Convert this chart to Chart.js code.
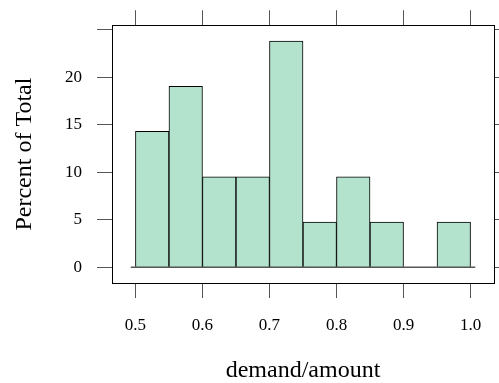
<!DOCTYPE html>
<html>
<head>
<meta charset="utf-8">
<script src="https://cdn.jsdelivr.net/npm/chart.js@4.4.1/dist/chart.umd.min.js"></script>
<style>
  html, body { margin: 0; padding: 0; background: #ffffff; }
  #wrap { width: 499px; height: 383px; }
</style>
</head>
<body>
<div id="wrap"><canvas id="c" width="499" height="383"></canvas></div>
<script>
// Histogram of demand/amount: bin edges and the percent of observations per bin
const binEdges = [0.50, 0.55, 0.60, 0.65, 0.70, 0.75, 0.80, 0.85, 0.90, 0.95, 1.00];
const percents = [14.29, 19.05, 9.52, 9.52, 23.81, 4.76, 9.52, 4.76, 0, 4.76];
const xTicks = [0.5, 0.6, 0.7, 0.8, 0.9, 1.0];
const yTicks = [0, 5, 10, 15, 20, 25];
const yLabelled = [0, 5, 10, 15, 20];

const xTitle = 'demand/amount';
const yTitle = 'Percent of Total';

// axis limits padded the way lattice pads its panels (7% each side)
const xPad = (binEdges[binEdges.length - 1] - binEdges[0]) * 0.07;
const yMaxVal = Math.max(...percents);
const yPad = yMaxVal * 0.07;
const xMin = binEdges[0] - xPad, xMax = binEdges[binEdges.length - 1] + xPad;
const yMin = 0 - yPad, yMax = yMaxVal + yPad;

const bars = percents.map((p, i) => ({ x: (binEdges[i] + binEdges[i + 1]) / 2, y: p }));
const overhang = 0.007;
const baseline = [
  { x: binEdges[0] - overhang, y: 0 },
  { x: binEdges[binEdges.length - 1] + overhang, y: 0 }
];

const serif = "'Liberation Serif', 'DejaVu Serif', serif";
const tickGray = '#555555';

function fixTicks(values) {
  return function (scale) { scale.ticks = values.map(v => ({ value: v })); };
}
function fixSize(prop, size) {
  return function (scale) { scale[prop] = size; };
}

new Chart(document.getElementById('c'), {
  type: 'bar',
  data: {
    datasets: [
      {
        type: 'bar',
        data: bars,
        backgroundColor: '#B3E2CD',
        borderColor: '#000000',
        borderWidth: 1,
        barPercentage: 1,
        categoryPercentage: 1,
        xAxisID: 'x',
        yAxisID: 'y',
        order: 2
      },
      {
        type: 'line',
        data: baseline,
        borderColor: '#000000',
        borderWidth: 1,
        pointRadius: 0,
        fill: false,
        xAxisID: 'x',
        yAxisID: 'y',
        order: 1
      }
    ]
  },
  options: {
    responsive: false,
    animation: false,
    devicePixelRatio: 1,
    layout: { padding: 0 },
    plugins: { legend: { display: false }, tooltip: { enabled: false } },
    scales: {
      x: {
        type: 'linear',
        position: 'bottom',
        offset: false,
        min: xMin, max: xMax,
        afterBuildTicks: fixTicks(xTicks),
        afterFit: fixSize('height', 100),
        grid: { offset: false, drawOnChartArea: false, drawTicks: true, tickLength: 15, color: tickGray, lineWidth: 1 },
        border: { display: true, color: '#000000', width: 1 },
        ticks: {
          color: '#000000', padding: 17, maxRotation: 0, autoSkip: false,
          font: { family: serif, size: 17 },
          callback: v => v.toFixed(1)
        },
        title: {
          display: true, text: xTitle, color: '#000000',
          font: { family: serif, size: 24, lineHeight: 1.05 },
          padding: { top: 0, bottom: 0 }
        }
      },
      xTop: {
        type: 'linear',
        position: 'top',
        offset: false,
        min: xMin, max: xMax,
        afterBuildTicks: fixTicks(xTicks),
        afterFit: fixSize('height', 23),
        grid: { offset: false, drawOnChartArea: false, drawTicks: true, tickLength: 15, color: tickGray, lineWidth: 1 },
        border: { display: true, color: '#000000', width: 1 },
        ticks: { display: false }
      },
      y: {
        type: 'linear',
        position: 'left',
        min: yMin, max: yMax,
        afterBuildTicks: fixTicks(yTicks),
        afterFit: fixSize('width', 112),
        grid: { drawOnChartArea: false, drawTicks: true, tickLength: 15, color: tickGray, lineWidth: 1 },
        border: { display: true, color: '#000000', width: 1 },
        ticks: {
          color: '#000000', padding: 15, autoSkip: false,
          font: { family: serif, size: 17 },
          callback: v => (yLabelled.includes(v) ? String(v) : '')
        },
        title: {
          display: true, text: yTitle, color: '#000000',
          font: { family: serif, size: 24 },
          padding: { top: 10, bottom: 0 }
        }
      },
      yRight: {
        type: 'linear',
        position: 'right',
        min: yMin, max: yMax,
        afterBuildTicks: fixTicks(yTicks),
        afterFit: fixSize('width', 5),
        grid: { drawOnChartArea: false, drawTicks: true, tickLength: 15, color: tickGray, lineWidth: 1 },
        border: { display: true, color: '#000000', width: 1 },
        ticks: { display: false }
      }
    }
  }
});
</script>
</body>
</html>
